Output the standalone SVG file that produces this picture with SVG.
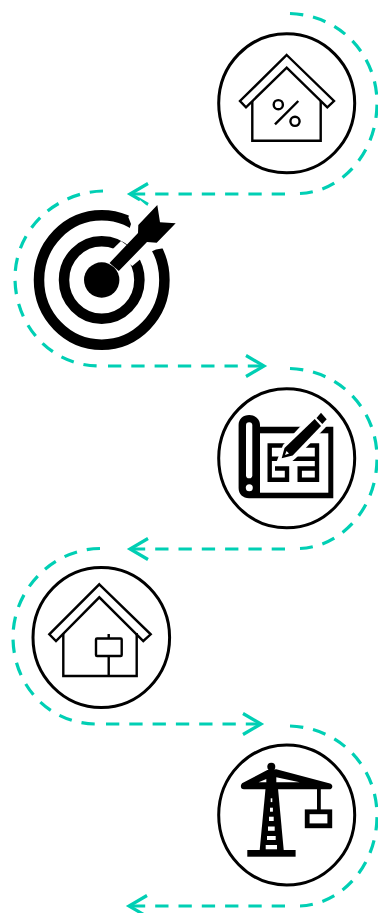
<svg xmlns="http://www.w3.org/2000/svg" width="378" height="913" viewBox="0 0 378 913">
<style>
.c{fill:none;stroke:#00cfb4;stroke-width:3.2;stroke-dasharray:13.3 10}
.o{fill:#fff;stroke:#000;stroke-width:3}
.l{fill:none;stroke:#000;stroke-width:2.4}
.k{fill:#000}
.w{fill:#fff}
</style>
<defs>
<marker id="ah" markerUnits="userSpaceOnUse" markerWidth="24" markerHeight="26" refX="21" refY="12" orient="auto" overflow="visible">
<path d="M2 1.5L20 12L2 22.5" fill="none" stroke="#00cfb4" stroke-width="3.2"/>
</marker>
</defs>
<rect width="378" height="913" fill="#fff"/>
<g id="connectors">
<path class="c" d="M290 13.500C340 15 377 55 377 103C377 155 340 192 300 193.500"/>
<path class="c" d="M285 194H129" marker-end="url(#ah)"/>
<path class="c" d="M103 191C55 192 15 230 15 278C15 325 50 365 98 366"/>
<path class="c" d="M108 366H265" marker-end="url(#ah)"/>
<path class="c" d="M290 368.500C340 370 377 410 377 458C377 510 340 547 300 548.500"/>
<path class="c" d="M285 549H129" marker-end="url(#ah)"/>
<path class="c" d="M100 548.500C52 549 13 590 13 637C13 685 48 723 95 724"/>
<path class="c" d="M106 724H262" marker-end="url(#ah)"/>
<path class="c" d="M290 726C340 727.500 377 767.500 377 815.500C377 867.500 340 904.500 300 906"/>
<path class="c" d="M285 906H128" marker-end="url(#ah)"/>
</g>
<g id="node-percent">
<ellipse class="o" cx="286.700" cy="103.300" rx="68" ry="69.500"/>
<path class="l" d="M286.700 55L334 101L327.300 107.300L286.700 67.700L246 107.300L240 101Z"/>
<path class="l" d="M252.300 101V140.700H320.700V101"/>
<circle class="l" cx="278.300" cy="104.700" r="4.600"/>
<circle class="l" cx="295" cy="121.300" r="4.600"/>
<path class="l" d="M298.300 101L275 124.300"/>
</g>
<g id="node-target">
<ellipse cx="101.700" cy="280" rx="62.700" ry="64.700" fill="none" stroke="#000" stroke-width="10.500"/>
<ellipse cx="101.700" cy="280" rx="37.700" ry="38.700" fill="none" stroke="#000" stroke-width="10.500"/>
<polygon class="w" points="129.300,229.300 131,224 128.300,217 140,200 182,235 163.300,248.300 156,249.500 151,251.700 140,240"/>
<polygon class="w" points="111,250.700 121,241 143,257 132.300,266"/>
<circle class="k" cx="101.700" cy="280" r="17.700"/>
<polygon class="k" points="109.500,263 138,233 138.300,225 157.300,205 160,222.300 175.700,223.300 156.700,242.700 147,242 118.800,271"/>
</g>
<g id="node-blueprint">
<ellipse class="o" cx="286.700" cy="458.300" rx="68" ry="69.500"/>
<path class="k" d="M238.600 425V488C238.600 494 243 498.300 249 498.300H333.300V426.700H260V425C260 419 255 415 249.300 415C243 415 238.600 419 238.600 425Z"/>
<rect class="w" x="246" y="422.300" width="6.300" height="56" rx="3.100"/>
<circle class="w" cx="249.300" cy="487.700" r="3.500"/>
<rect class="w" x="260" y="433.300" width="68.300" height="59.400"/>
<path fill="none" stroke="#000" stroke-width="4.400" d="M290 445.500H269.700V479.700H287V468.500H275M303 445.500H317V479.700H299.700V468.500H315M271 458.700H280M290 458.700H315"/>
<polygon class="w" points="276,463 283,445 312,414 321,408 332,420 325,428 296,458 290,463"/>
<polygon class="k" points="281.700,458.300 284.500,448 314.700,419 321,426 292.700,455.500"/>
<polygon class="w" points="285,455 286.500,451 289,453.500"/>
<polygon class="k" points="321,412.700 326.700,419.300 322.300,424 316.500,418"/>
</g>
<g id="node-sign">
<ellipse class="o" cx="101.300" cy="637.500" rx="68.300" ry="70"/>
<path class="l" d="M99.300 584.300L150.700 634.300L143.300 641L99.300 597.300L56 641L49.300 634.300Z"/>
<path class="l" d="M63.300 633V676H136.700V633"/>
<rect class="l" x="96" y="638.500" width="25.700" height="17.500" rx="1"/>
<path class="l" d="M108.700 634V638.500M108.700 656V676"/>
</g>
<g id="node-crane">
<ellipse class="o" cx="286.700" cy="815" rx="68" ry="70"/>
<polygon class="k" points="267.300,770 276.300,770 283.700,850 259.700,850"/>
<circle class="k" cx="271.300" cy="766.700" r="4"/>
<path class="k" d="M267.300 770L243 782.700C240 784 240 789.300 244 789.300H329C333 789.300 333.500 784.500 330 783.500L276.300 769.300Z"/>
<polygon class="w" points="258.700,782.300 266.300,782.300 266.300,779"/>
<polygon class="w" points="276.300,777.300 276.300,782.300 299.700,782.300"/>
<g class="w">
<rect x="270.700" y="798.300" width="1.600" height="3.800"/>
<rect x="270" y="807.700" width="2.900" height="4"/>
<rect x="269" y="816.700" width="4.700" height="4.300"/>
<rect x="268" y="826.500" width="6.700" height="4.300"/>
<rect x="267" y="836" width="8.700" height="4"/>
<rect x="265.700" y="845" width="11.300" height="4.300"/>
</g>
<rect class="k" x="247.300" y="850" width="48.300" height="6.700"/>
<rect class="k" x="317" y="788" width="3.800" height="23"/>
<rect x="307.200" y="811.800" width="22.600" height="14" fill="#fff" stroke="#000" stroke-width="4.800"/>
</g>
</svg>
